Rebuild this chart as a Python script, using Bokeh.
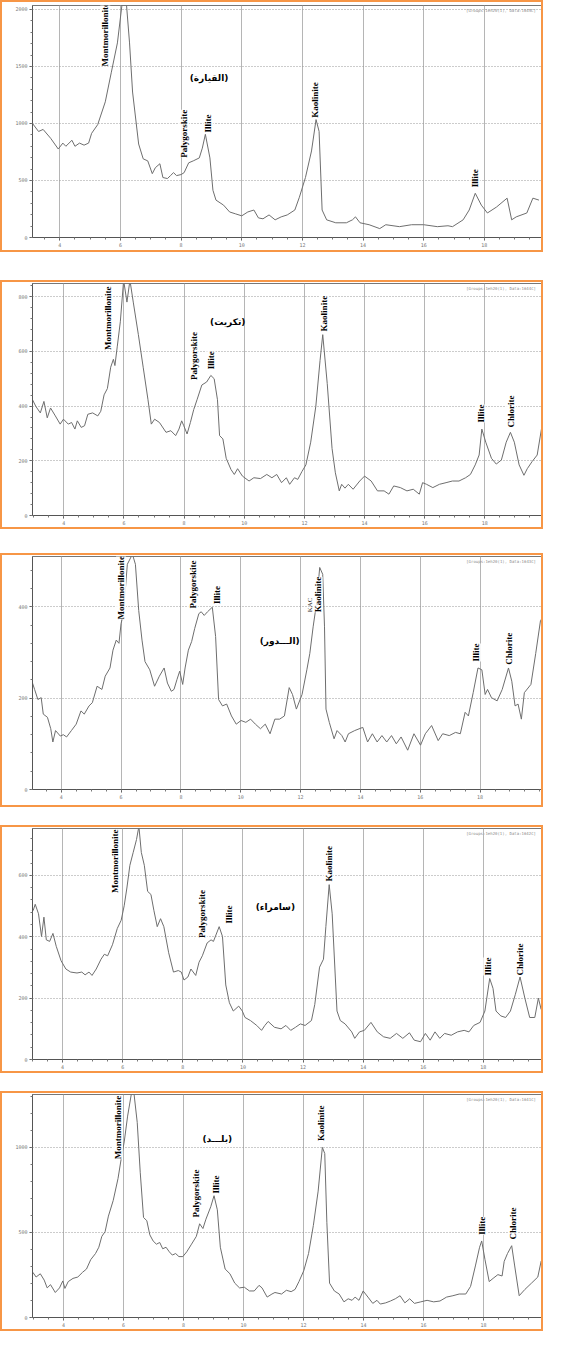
import math
from bokeh.plotting import figure
from bokeh.models import Range1d, FixedTicker, Label, Spacer
from bokeh.layouts import column
from bokeh.embed import file_html
from bokeh.resources import INLINE

# ---------------- data (2-theta in degrees, intensity in counts) ----------------
x1 = [3.1,3.3,3.45,3.7,3.95,4.1,4.2,4.4,4.5,4.65,4.8,4.95,5.05,5.25,5.5,5.7,5.9,6.05,6.2,6.3,
      6.4,6.6,6.75,6.9,7.05,7.15,7.3,7.4,7.55,7.65,7.75,7.85,8.0,8.1,8.25,8.4,8.6,8.7,8.8,8.95,
      9.05,9.15,9.4,9.6,9.8,10.0,10.2,10.4,10.55,10.7,10.9,11.1,11.3,11.5,11.75,11.9,12.1,12.3,12.45,12.55,
      12.65,12.8,13.1,13.45,13.65,13.75,13.9,14.2,14.55,14.75,15.2,15.6,16.0,16.45,16.8,16.95,17.3,17.5,17.7,17.9,
      18.1,18.4,18.75,18.9,19.05,19.4,19.6,19.8]
y1 = [1000,930,948,870,776,828,800,853,800,828,810,828,914,990,1190,1450,1707,2040,2040,1707,
      1276,820,690,672,560,612,647,526,517,543,569,543,552,569,655,672,698,784,905,698,
      414,328,284,224,207,190,224,241,172,164,198,155,181,198,241,353,526,759,1034,931,
      241,155,129,129,155,181,129,112,78,112,95,112,112,95,103,95,155,241,388,284,
      215,267,345,155,181,215,345,328]

x2 = [2.96,3.07,3.22,3.34,3.45,3.56,3.72,3.88,3.99,4.15,4.26,4.37,4.45,4.58,4.69,4.8,4.96,5.13,5.23,5.34,
      5.45,5.56,5.65,5.7,5.78,5.88,5.99,6.1,6.2,6.31,6.48,6.64,6.8,6.91,7.02,7.18,7.4,7.56,7.72,7.83,
      7.92,7.99,8.1,8.21,8.32,8.43,8.59,8.75,8.89,9.0,9.11,9.18,9.29,9.4,9.56,9.67,9.78,9.94,10.16,10.32,
      10.54,10.75,10.92,11.08,11.24,11.4,11.51,11.67,11.78,11.92,12.05,12.21,12.38,12.52,12.61,12.76,12.92,13.03,13.16,13.24,
      13.35,13.46,13.62,13.84,14.0,14.22,14.43,14.65,14.81,14.97,15.19,15.41,15.62,15.82,15.93,16.06,16.27,16.49,16.71,16.92,
      17.14,17.36,17.52,17.68,17.81,17.9,18.03,18.22,18.38,18.55,18.71,18.85,18.98,19.14,19.3,19.41,19.57,19.74,19.9]
y2 = [423,399,375,417,357,393,364,334,352,334,340,316,346,322,328,370,375,364,381,441,
      464,542,571,548,619,708,860,780,860,780,661,542,423,334,352,340,304,310,292,316,
      346,328,298,340,387,423,477,488,512,500,423,292,280,209,168,150,171,144,126,138,
      135,150,138,150,120,138,114,138,132,161,185,268,399,566,661,482,245,156,90,114,
      100,114,96,126,144,126,90,90,78,108,102,90,96,78,120,114,102,114,120,126,
      126,138,150,185,221,316,268,209,188,203,268,304,268,185,147,171,197,221,328]

x3 = [3.04,3.11,3.22,3.33,3.4,3.54,3.65,3.72,3.81,3.97,4.07,4.18,4.34,4.5,4.66,4.77,4.93,5.04,5.2,5.36,
      5.47,5.63,5.73,5.84,5.93,6.0,6.08,6.21,6.38,6.48,6.59,6.7,6.8,6.96,7.12,7.28,7.44,7.55,7.68,7.77,
      7.87,7.96,8.06,8.14,8.25,8.36,8.46,8.6,8.68,8.78,8.89,9.05,9.16,9.26,9.39,9.53,9.69,9.85,10.01,10.17,
      10.33,10.49,10.66,10.82,10.98,11.14,11.3,11.46,11.62,11.73,11.86,12.05,12.21,12.31,12.42,12.53,12.64,12.74,12.8,12.85,
      12.96,13.12,13.22,13.38,13.49,13.6,13.81,14.08,14.24,14.4,14.56,14.72,14.88,15.04,15.2,15.36,15.58,15.79,16.01,16.17,
      16.38,16.6,16.75,16.97,17.18,17.34,17.5,17.61,17.77,17.93,18.06,18.17,18.25,18.38,18.57,18.74,18.95,19.06,19.17,19.27,
      19.38,19.48,19.7,19.86,20.02,20.12]
y3 = [233,219,197,201,165,158,133,104,129,117,120,115,129,143,172,165,183,190,226,219,
      248,266,305,327,320,363,385,493,515,493,392,327,280,262,226,248,266,233,215,219,
      241,259,230,266,305,324,352,385,389,381,389,399,335,197,183,187,161,143,151,147,
      154,143,133,143,122,154,154,161,223,208,176,208,262,298,356,406,486,471,356,176,
      147,111,129,118,104,122,129,136,104,122,104,118,104,118,100,115,86,122,97,122,
      140,107,122,118,125,122,169,161,212,266,262,208,219,201,194,219,266,237,183,187,
      154,212,230,298,370,378]

x4 = [3.02,3.09,3.2,3.3,3.38,3.46,3.57,3.68,3.79,3.95,4.11,4.27,4.48,4.64,4.75,4.88,4.98,5.12,5.28,5.39,
      5.5,5.66,5.82,5.95,6.05,6.14,6.24,6.35,6.46,6.54,6.62,6.72,6.83,6.94,7.04,7.15,7.26,7.37,7.53,7.69,
      7.85,7.95,8.04,8.17,8.27,8.43,8.54,8.65,8.81,8.94,9.02,9.21,9.32,9.43,9.55,9.68,9.86,9.98,10.07,10.25,
      10.46,10.62,10.73,10.84,11.05,11.27,11.43,11.59,11.75,11.91,12.07,12.28,12.39,12.55,12.68,12.76,12.87,12.97,13.13,13.24,
      13.4,13.62,13.72,13.88,14.04,14.26,14.47,14.68,14.9,15.11,15.32,15.54,15.7,15.91,16.07,16.23,16.39,16.55,16.71,16.93,
      17.14,17.36,17.52,17.68,17.89,18.05,18.21,18.32,18.42,18.58,18.74,18.9,19.06,19.22,19.38,19.54,19.71,19.83,19.92,20.0]
y4 = [485,506,475,401,464,390,385,411,369,322,295,285,282,285,276,285,274,295,327,343,
      338,374,427,454,501,559,633,675,717,760,675,633,548,538,485,433,459,433,348,285,
      290,285,259,269,295,274,317,338,380,390,385,433,401,243,185,158,174,158,137,127,
      111,95,111,124,105,100,111,95,105,116,111,127,179,301,327,433,570,475,158,127,
      116,90,69,90,95,121,90,74,69,85,69,87,63,58,85,63,90,69,85,79,
      90,95,90,111,121,158,264,232,158,142,137,158,211,269,200,137,137,200,164,179]

x5 = [2.98,3.09,3.23,3.36,3.46,3.57,3.73,3.87,3.98,4.05,4.16,4.32,4.48,4.64,4.77,4.91,5.07,5.18,5.28,5.39,
      5.5,5.66,5.82,5.92,6.03,6.14,6.27,6.35,6.46,6.56,6.67,6.78,6.88,6.99,7.1,7.21,7.31,7.42,7.53,7.63,
      7.74,7.85,7.98,8.11,8.27,8.43,8.54,8.65,8.75,8.91,9.02,9.13,9.23,9.39,9.55,9.71,9.87,10.03,10.2,10.36,
      10.52,10.62,10.79,10.95,11.05,11.27,11.43,11.59,11.72,11.85,12.01,12.17,12.33,12.49,12.63,12.71,12.78,12.87,13.03,13.19,
      13.35,13.49,13.62,13.72,13.85,13.99,14.15,14.31,14.45,14.56,14.74,14.9,15.06,15.22,15.38,15.54,15.7,15.91,16.12,16.34,
      16.55,16.77,16.98,17.19,17.41,17.57,17.73,17.87,17.94,18.05,18.19,18.32,18.48,18.62,18.69,18.8,18.94,19.04,19.19,19.38,
      19.6,19.81,19.92,20.0]
y5 = [266,238,257,220,174,193,147,174,215,171,211,230,238,266,285,340,376,413,477,505,
      596,688,817,927,1037,1184,1320,1320,1147,854,588,569,486,450,431,441,404,413,386,367,
      376,358,358,386,431,477,551,523,578,651,716,633,413,285,257,202,174,178,156,156,
      189,174,120,138,147,138,160,152,165,211,275,376,541,743,1000,964,560,202,156,138,
      92,110,101,120,101,156,120,83,101,79,86,97,110,128,86,110,83,92,101,92,
      97,120,128,138,138,183,303,413,450,340,211,230,252,244,330,376,422,303,128,165,
      202,238,330,293]

x_ticks = [4, 6, 8, 10, 12, 14, 16, 18]
y_ticks1 = [0, 500, 1000, 1500, 2000]
y_ticks2 = [0, 200, 400, 600, 800]
y_ticks3 = [0, 200, 400]
y_ticks4 = [0, 200, 400, 600]
y_ticks5 = [0, 500, 1000]

# site names
site1 = "(القيارة)"
site2 = "(تكريت)"
site3 = "(الـــدور)"
site4 = "(سامراء)"
site5 = "(بلـــد)"

# peak annotations: (text, 2theta, counts at text foot)
peaks1 = [("Montmorillonite", 5.5, 1500), ("Palygorskite", 8.1, 700), ("Illite", 8.9, 920),
          ("Kaolinite", 12.4, 1050), ("Illite", 17.7, 440)]
peaks2 = [("Montmorillonite", 5.46, 605), ("Palygorskite", 8.32, 495), ("Illite", 8.89, 535),
          ("Kaolinite", 12.65, 673), ("Illite", 17.86, 340), ("Chlorite", 18.87, 322)]
peaks3 = [("Montmorillonite", 6.0, 372), ("Palygorskite", 8.41, 396), ("Illite", 9.21, 406),
          ("Kaolinite", 12.57, 388), ("Illite", 17.88, 280), ("Chlorite", 18.97, 273)]
peaks4 = [("Montmorillonite", 5.76, 543), ("Palygorskite", 8.65, 396), ("Illite", 9.55, 443),
          ("Kaolinite", 12.85, 580), ("Illite", 18.16, 274), ("Chlorite", 19.22, 274)]
peaks5 = [("Montmorillonite", 5.82, 930), ("Palygorskite", 8.43, 588), ("Illite", 9.1, 729),
          ("Kaolinite", 12.6, 1037), ("Illite", 17.96, 486), ("Chlorite", 18.98, 459)]
site_pos = [(8.92, 1396), (9.45, 709), (11.3, 324), (11.08, 497), (9.13, 1052)]

ORANGE = "#F79646"
W = 543


def make_panel(x, y, xr, yr, yticks, peaks, site, spos, h, mb, tag):
    p = figure(width=W, height=h, output_backend="svg", toolbar_location=None,
               x_range=Range1d(*xr), y_range=Range1d(*yr),
               min_border_left=mb[0], min_border_right=mb[1],
               min_border_top=mb[2], min_border_bottom=mb[3],
               styles={"border": "2px solid " + ORANGE})
    p.background_fill_color = "white"
    p.border_fill_color = "white"
    p.outline_line_color = "#777777"
    p.outline_line_width = 1

    minor_x = [v / 2 for v in range(6, 41)]
    p.xaxis.ticker = FixedTicker(ticks=x_ticks, minor_ticks=minor_x)
    step = yticks[1] - yticks[0]
    minor_y = [i * step / 5 for i in range(0, int(yr[1] / (step / 5)) + 1)]
    p.yaxis.ticker = FixedTicker(ticks=yticks, minor_ticks=minor_y)
    p.xgrid.ticker = FixedTicker(ticks=x_ticks)
    p.ygrid.ticker = FixedTicker(ticks=yticks[1:])
    p.xgrid.grid_line_color = "#b5b5b5"
    p.xgrid.grid_line_width = 1
    p.ygrid.grid_line_color = "#999999"
    p.ygrid.grid_line_dash = "1 2"

    for ax in (p.xaxis, p.yaxis):
        ax.axis_line_color = "#555555"
        ax.major_tick_line_color = "#555555"
        ax.minor_tick_line_color = "#777777"
        ax.major_tick_out = 3
        ax.major_tick_in = 0
        ax.minor_tick_out = 2
        ax.minor_tick_in = 0
        ax.major_label_text_font = "DejaVu Sans Mono"
        ax.major_label_text_font_size = "5px"
        ax.major_label_text_color = "#777777"
        ax.major_label_standoff = 2

    p.line(x, y, line_color="#6e6e6e", line_width=1)

    for (t, px, py) in peaks:
        p.add_layout(Label(x=px, y=py, text=t, angle=math.pi / 2,
                           text_align="left", text_baseline="middle",
                           text_font="Liberation Serif", text_font_style="bold",
                           text_font_size="9px", text_color="black",
                           background_fill_color="white", background_fill_alpha=0.9))
    p.add_layout(Label(x=spos[0], y=spos[1], text=site, text_align="center",
                       text_baseline="middle", text_font="DejaVu Sans",
                       text_font_style="bold", text_font_size="9px", text_color="black"))
    p.add_layout(Label(x=xr[1] - 0.25, y=yr[1] * 0.99, text=tag, text_align="right",
                       text_baseline="top", text_font="DejaVu Sans Mono",
                       text_font_size="4px", text_color="#8a8a8a"))
    return p


p1 = make_panel(x1, y1, (3.1, 19.95), (0, 2035), y_ticks1, peaks1, site1, site_pos[0],
                252, (22, 2, 3, 17), "[Groups:1eh20(1), Data:1645C]")
p2 = make_panel(x2, y2, (2.96, 19.95), (0, 848), y_ticks2, peaks2, site2, site_pos[1],
                249, (30, 2, 1, 16), "[Groups:1eh20(1), Data:1644C]")
p3 = make_panel(x3, y3, (3.04, 20.12), (0, 510), y_ticks3, peaks3, site3, site_pos[2],
                254, (16, 2, 1, 20), "[Groups:1eh20(1), Data:1643C]")
p3.add_layout(Label(x=12.33, y=388, text="KAC", angle=math.pi / 2, text_align="left",
                    text_baseline="middle", text_font="Liberation Sans Narrow",
                    text_font_size="7px", text_color="#333333"))
p4 = make_panel(x4, y4, (3.0, 20.0), (0, 753), y_ticks4, peaks4, site4, site_pos[3],
                248, (19, 2, 1, 16), "[Groups:1eh20(1), Data:1642C]")
p5 = make_panel(x5, y5, (2.97, 20.0), (0, 1311), y_ticks5, peaks5, site5, site_pos[4],
                240, (18, 2, 1, 16), "[Groups:1eh20(1), Data:1641C]")

layout = column(p1, Spacer(height=28), p2, Spacer(height=24), p3, Spacer(height=18),
                p4, Spacer(height=18), p5)

open("out.html", "w").write(file_html(layout, INLINE))
